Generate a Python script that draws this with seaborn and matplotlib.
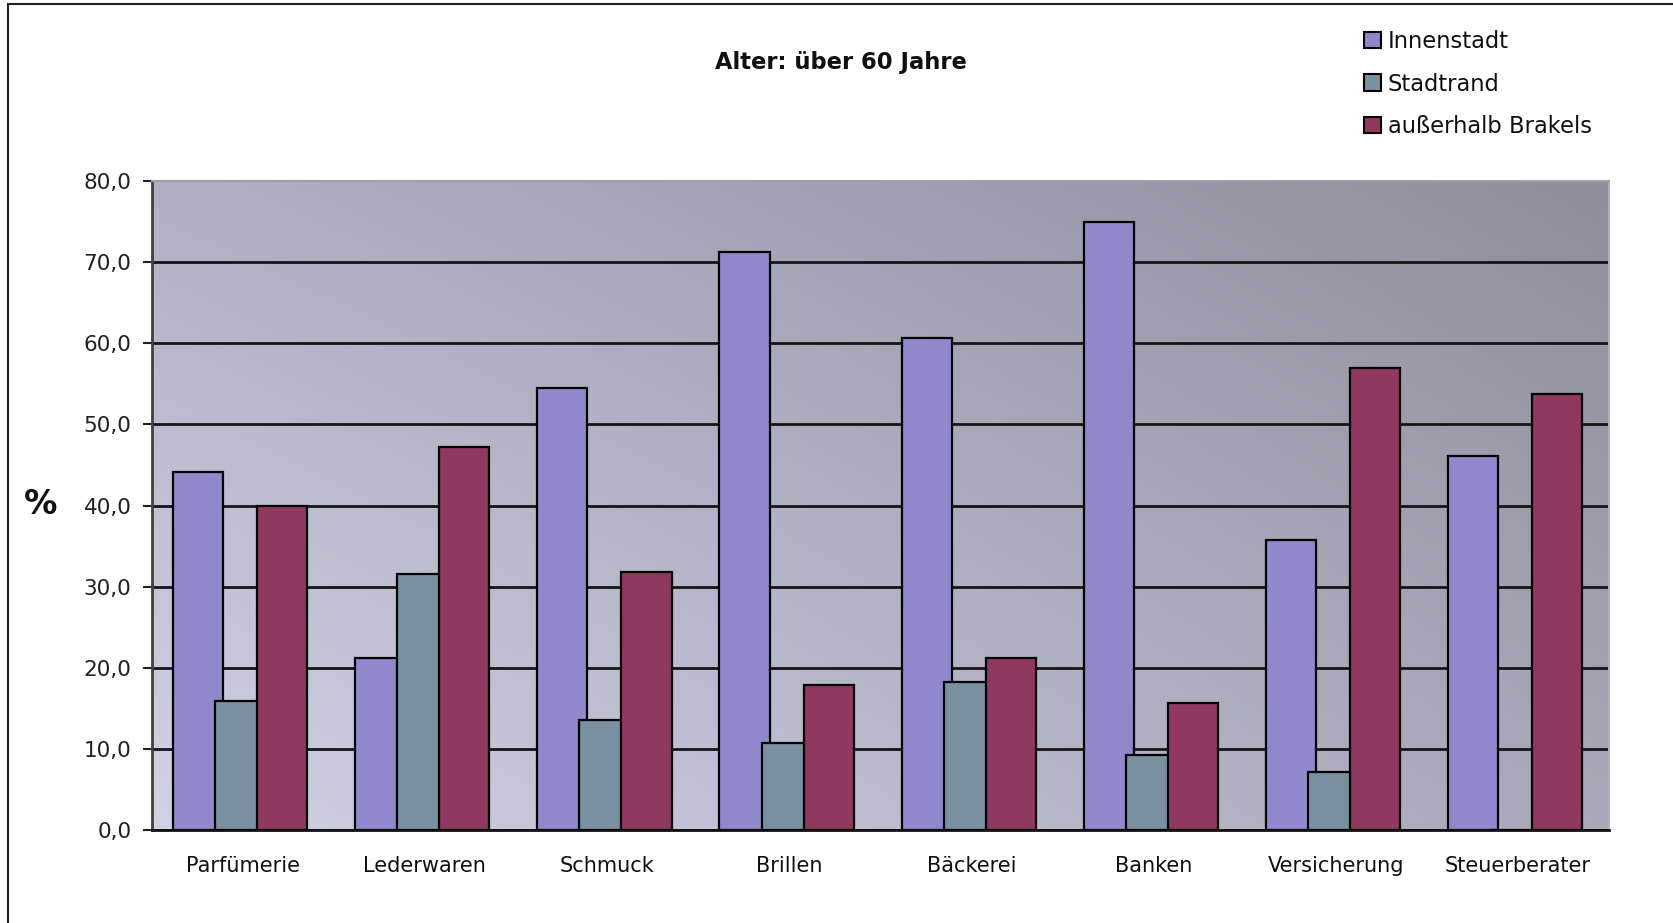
import numpy as np
import pandas as pd
import matplotlib
matplotlib.use("Agg")
import matplotlib.pyplot as plt
from matplotlib.patches import Rectangle, Patch
import seaborn as sns

categories = ["Parfümerie", "Lederwaren", "Schmuck", "Brillen", "Bäckerei",
              "Banken", "Versicherung", "Steuerberater"]
series_names = ["Innenstadt", "Stadtrand", "außerhalb Brakels"]
innenstadt = [44.1, 21.2, 54.5, 71.3, 60.7, 75.0, 35.7, 46.1]
stadtrand = [15.9, 31.6, 13.6, 10.7, 18.2, 9.3, 7.1, 0.0]
ausserhalb = [39.9, 47.2, 31.8, 17.9, 21.2, 15.7, 57.0, 53.8]
colors = ["#9088CC", "#7890A0", "#913860"]
title = "Alter: über 60 Jahre"
y_ticks = [0, 10, 20, 30, 40, 50, 60, 70, 80]

df = pd.DataFrame({
    "Kategorie": categories * 3,
    "Lage": [s for s in series_names for _ in categories],
    "Wert": innenstadt + stadtrand + ausserhalb,
})

sns.set_theme(style="white")
plt.rcParams["font.family"] = ["DejaVu Sans"]

W, H = 1673, 923
fig = plt.figure(figsize=(W / 100, H / 100), dpi=100)
fig.patch.set_facecolor("white")

ax_l, ax_r, ax_t, ax_b = 151.5, 1609, 181, 830
ax = fig.add_axes([ax_l / W, 1 - ax_b / H, (ax_r - ax_l) / W, (ax_b - ax_t) / H])

# gradient background
c_tl = np.array([0xB0, 0xB0, 0xC4]) / 255
c_tr = np.array([0x8E, 0x8E, 0x9C]) / 255
c_bl = np.array([0xD2, 0xD2, 0xE6]) / 255
c_br = np.array([0xA8, 0xA8, 0xB8]) / 255
n = 200
u = np.linspace(0, 1, n)[None, :, None]
v = np.linspace(0, 1, n)[:, None, None]  # 0 = top
grad = (1 - v) * ((1 - u) * c_tl + u * c_tr) + v * ((1 - u) * c_bl + u * c_br)
ax.imshow(grad, extent=[0, 1, 0, 1], transform=ax.transAxes, aspect="auto",
          zorder=0, interpolation="bilinear")

sns.barplot(data=df, x="Kategorie", y="Wert", hue="Lage", palette=colors,
            saturation=1, edgecolor="black", linewidth=1.6, width=0.74,
            errorbar=None, legend=False, ax=ax, zorder=2)

# Excel-style overlapping bars
bw = 0.275
step = 0.231
for i, cont in enumerate(ax.containers):
    for bar in cont:
        cx = bar.get_x() + bar.get_width() / 2
        j = round(cx)
        bar.set_width(bw)
        bar.set_x(j - 0.014 + (i - 1) * step - bw / 2)
        bar.set_zorder(2 + i)

ax.set_xlim(-0.5, len(categories) - 0.5)
ax.set_ylim(0, 80)
ax.set_yticks(y_ticks)
ax.set_yticklabels([f"{t:.1f}".replace(".", ",") for t in y_ticks])
ax.set_xlabel("")
ax.set_ylabel("")

ax.set_axisbelow(True)
ax.yaxis.grid(True, color="#151515", linewidth=2.0)
ax.xaxis.grid(False)
ax.get_ygridlines()[-1].set_visible(False)
for gl in ax.get_ygridlines():
    gl.set_zorder(1)

ax.spines["left"].set_color("#404040")
ax.spines["left"].set_linewidth(2.0)
ax.spines["bottom"].set_color("#101010")
ax.spines["bottom"].set_linewidth(2.0)
ax.spines["top"].set_color("#a0a0a8")
ax.spines["top"].set_linewidth(1.5)
ax.spines["right"].set_color("#b0b0b8")
ax.spines["right"].set_linewidth(1.5)

ax.tick_params(axis="y", direction="out", length=6.5, width=1.5, color="#202020",
               pad=8, labelsize=15.5, labelcolor="#202020", left=True)
ax.tick_params(axis="x", length=0, pad=18.5, labelsize=15, labelcolor="#101010")

fig.text(841 / W, 1 - 63 / H, title, ha="center", va="center",
         fontsize=16.3, fontweight="bold", color="#101010")
fig.text(41 / W, 1 - 505 / H, "%", ha="center", va="center",
         fontsize=24, fontweight="bold", color="#101010")

handles = [Patch(facecolor=c, edgecolor="black", linewidth=1.5) for c in colors]
fig.legend(handles, series_names, loc="upper left",
           bbox_to_anchor=(1355 / W, 1 - 21 / H), frameon=False,
           fontsize=16.3, handlelength=0.75, handleheight=0.75,
           handletextpad=0.3, labelspacing=0.86, borderaxespad=0,
           labelcolor="#101010")

# outer frame
fig.patches.append(Rectangle((7.5 / W, -0.05), 1.2, 1.0 - 4.5 / H + 0.05,
                             transform=fig.transFigure, fill=False,
                             edgecolor="#202020", linewidth=1.5))

fig.savefig("out.png", dpi=100)
